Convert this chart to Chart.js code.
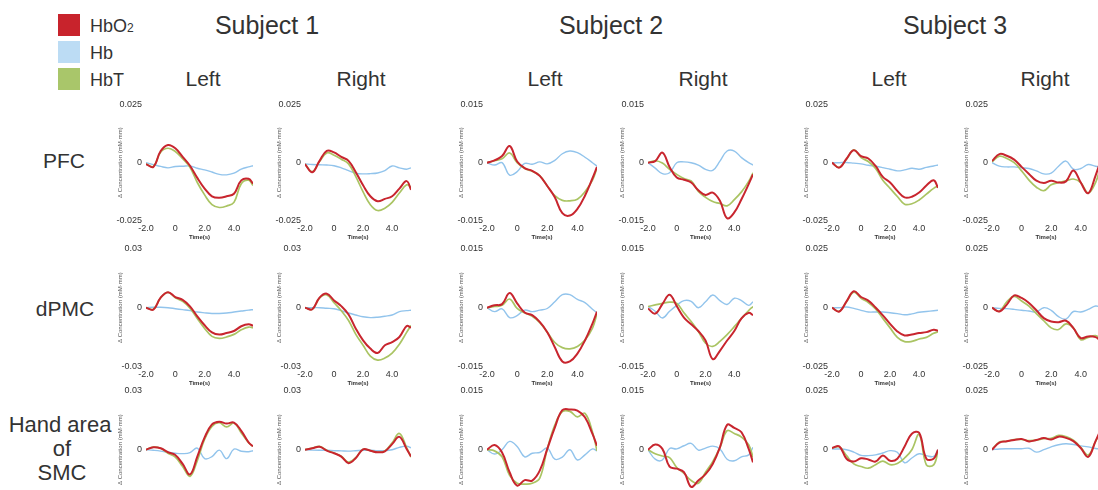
<!DOCTYPE html>
<html><head><meta charset="utf-8">
<script src="https://cdn.jsdelivr.net/npm/chart.js@4.4.1/dist/chart.umd.min.js"></script>
<style>
html,body{margin:0;padding:0;background:#fff;overflow:hidden;}
#fig{position:relative;width:1098px;height:490px;overflow:hidden;font-family:"Liberation Sans",Arial,sans-serif;color:#333;}
.t{position:absolute;white-space:nowrap;transform:translate(-50%,-50%);line-height:1;}
.l{position:absolute;white-space:nowrap;transform:translateY(-50%);line-height:1;font-size:18px;}
.sw{position:absolute;width:22px;height:22px;}
canvas{position:absolute;}
</style></head><body>
<div id="fig">
  <div class="sw" style="left:58px;top:14px;background:#c8232c"></div>
  <div class="sw" style="left:58px;top:41px;background:#bcdcf4"></div>
  <div class="sw" style="left:58px;top:68px;background:#a9c66a"></div>
  <div class="l" style="left:90px;top:26px">HbO<span style="font-size:12px">2</span></div>
  <div class="l" style="left:90px;top:53px">Hb</div>
  <div class="l" style="left:90px;top:80px">HbT</div>
  <div class="t" style="left:267px;top:25px;font-size:25px">Subject 1</div>
  <div class="t" style="left:611px;top:25px;font-size:25px">Subject 2</div>
  <div class="t" style="left:955px;top:25px;font-size:25px">Subject 3</div>
  <div class="t" style="left:203px;top:78px;font-size:21px">Left</div>
  <div class="t" style="left:361px;top:78px;font-size:21px">Right</div>
  <div class="t" style="left:545px;top:78px;font-size:21px">Left</div>
  <div class="t" style="left:703px;top:78px;font-size:21px">Right</div>
  <div class="t" style="left:889px;top:78px;font-size:21px">Left</div>
  <div class="t" style="left:1045px;top:78px;font-size:21px">Right</div>
  <div class="t" style="left:64px;top:160px;font-size:21px">PFC</div>
  <div class="t" style="left:65px;top:308px;font-size:21px">dPMC</div>
  <div class="t" style="left:60px;top:425px;font-size:22px">Hand area</div>
  <div class="t" style="left:62px;top:449px;font-size:22px">of</div>
  <div class="t" style="left:62px;top:473px;font-size:22px">SMC</div>
</div>
<script>
const time = [-2,-1.5,-1,-0.5,0,0.5,1,1.5,2,2.5,3,3.5,4,4.5,5,5.3];
const xTickValues = [-2,0,2,4];
const xTickLabels = ['-2.0','0','2.0','4.0'];

// PFC
const pfc_s1L_hbo2 = [-0.0006,-0.0018,0.005,0.0076,0.0062,0.0025,-0.0013,-0.0065,-0.0111,-0.0144,-0.015,-0.0144,-0.0133,-0.0076,-0.0069,-0.009];
const pfc_s1L_hb   = [0,-0.0008,-0.0016,-0.0022,-0.0016,-0.0015,-0.0014,-0.0024,-0.0031,-0.004,-0.005,-0.0052,-0.0045,-0.0028,-0.0018,-0.0013];
const pfc_s1L_hbt  = [-0.0006,-0.0016,0.0045,0.0062,0.0048,0.0017,-0.002,-0.0085,-0.0138,-0.018,-0.0192,-0.0186,-0.017,-0.009,-0.0075,-0.0098];
const pfc_s1R_hbo2 = [-0.0006,-0.0041,0.0008,0.0051,0.0044,0.0025,0.0008,-0.0041,-0.0097,-0.0144,-0.0165,-0.0155,-0.0144,-0.0111,-0.0079,-0.0116];
const pfc_s1R_hb   = [-0.0005,-0.0008,-0.0009,-0.001,-0.0013,-0.0022,-0.0034,-0.0045,-0.0048,-0.0047,-0.0044,-0.0034,-0.0014,-0.0022,-0.0028,-0.0022];
const pfc_s1R_hbt  = [-0.0006,-0.0038,0.0005,0.0042,0.0032,0.0015,-0.0005,-0.006,-0.0125,-0.018,-0.0205,-0.0195,-0.017,-0.013,-0.0095,-0.0105];
const pfc_s2L_hbo2 = [0,0.0006,0.0017,0.0043,0.0003,-0.0014,-0.0021,-0.0034,-0.006,-0.0089,-0.013,-0.0136,-0.0119,-0.0085,-0.004,-0.0011];
const pfc_s2L_hb   = [0,-0.0006,0,-0.0032,-0.0023,-0.0002,-0.0004,0.0002,-0.0003,0.0006,0.0023,0.003,0.0026,0.0014,0,-0.0009];
const pfc_s2L_hbt  = [0,0.0005,0.001,0.0025,0,-0.0015,-0.0022,-0.0033,-0.006,-0.0085,-0.0097,-0.0098,-0.0094,-0.0075,-0.0045,-0.0013];
const pfc_s2R_hbo2 = [0,0.0004,0.0026,-0.0011,-0.0038,-0.0044,-0.0051,-0.0071,-0.0083,-0.0077,-0.0098,-0.0143,-0.0128,-0.0094,-0.0055,-0.003];
const pfc_s2R_hb   = [0,-0.0014,-0.0028,-0.0026,0,0.0002,0,-0.0006,-0.0017,-0.002,0.0004,0.003,0.003,0.0013,0,-0.0006];
const pfc_s2R_hbt  = [0,0.0005,-0.0001,-0.0017,-0.003,-0.0041,-0.0047,-0.0074,-0.0089,-0.01,-0.0105,-0.0111,-0.0095,-0.0075,-0.0048,-0.0026];
const pfc_s3L_hbo2 = [0,-0.0021,0.0017,0.0053,0.0028,0.0018,-0.0014,-0.0061,-0.0085,-0.0121,-0.0149,-0.0146,-0.0128,-0.0098,-0.0075,-0.0107];
const pfc_s3L_hb   = [0,0,0.0001,-0.0002,-0.0005,-0.0011,-0.0015,-0.0021,-0.0028,-0.0035,-0.0031,-0.0024,-0.0028,-0.002,-0.0014,-0.001];
const pfc_s3L_hbt  = [0,-0.002,0.0015,0.0055,0.0022,0.0005,-0.0025,-0.0075,-0.011,-0.0145,-0.0178,-0.0176,-0.016,-0.0135,-0.011,-0.01];
const pfc_s3R_hbo2 = [0.0007,0.0037,0.003,0.0013,-0.0018,-0.0048,-0.0077,-0.0087,-0.0077,-0.0085,-0.008,-0.0033,-0.0085,-0.0131,-0.0055,0];
const pfc_s3R_hb   = [0,-0.0015,-0.0018,-0.0018,-0.0022,-0.0025,-0.0035,-0.0048,-0.0045,-0.0015,0.0007,-0.0028,-0.0025,-0.0008,-0.0015,-0.0018];
const pfc_s3R_hbt  = [0.0004,0.0028,0.0018,0,-0.0035,-0.0075,-0.0105,-0.012,-0.0095,-0.0085,-0.0078,-0.007,-0.0085,-0.013,-0.0085,-0.0025];

// dPMC
const dpmc_s1L_hbo2 = [0,-0.001,0.0051,0.0078,0.0054,0.004,0.0007,-0.0044,-0.0089,-0.0125,-0.0136,-0.0128,-0.0118,-0.0094,-0.0084,-0.0091];
const dpmc_s1L_hb   = [0,0.0002,0.0002,0,-0.0005,-0.001,-0.0015,-0.0022,-0.0026,-0.0029,-0.0029,-0.0027,-0.0022,-0.0017,-0.0012,-0.001];
const dpmc_s1L_hbt  = [0,-0.0008,0.005,0.0078,0.005,0.0032,-0.0002,-0.0055,-0.0105,-0.0145,-0.0155,-0.0148,-0.0135,-0.0112,-0.0098,-0.0102];
const dpmc_s1R_hbo2 = [0,-0.0008,0.0051,0.0071,0.0037,0.0008,-0.0034,-0.0106,-0.0165,-0.0207,-0.0229,-0.019,-0.0174,-0.0148,-0.0093,-0.0101];
const dpmc_s1R_hb   = [0,0,0,-0.0003,-0.0005,-0.0015,-0.0027,-0.0037,-0.0046,-0.005,-0.0048,-0.0043,-0.0037,-0.002,-0.0015,-0.0013];
const dpmc_s1R_hbt  = [0,-0.0008,0.0048,0.0065,0.0025,-0.0015,-0.0065,-0.0135,-0.019,-0.0245,-0.0265,-0.0255,-0.023,-0.0185,-0.0125,-0.009];
const dpmc_s2L_hbo2 = [0,0.0006,0.0009,0.0037,0.0011,-0.0012,-0.0019,-0.0036,-0.0062,-0.01,-0.0136,-0.0136,-0.0116,-0.0083,-0.004,-0.001];
const dpmc_s2L_hb   = [0,-0.001,-0.0003,-0.0025,-0.002,-0.0006,-0.001,-0.0006,-0.0002,0.0015,0.0033,0.0033,0.0021,0.0013,-0.0004,-0.0013];
const dpmc_s2L_hbt  = [0,0.0003,0.0006,0.0022,-0.0002,-0.0013,-0.0022,-0.0038,-0.0062,-0.0088,-0.0101,-0.0104,-0.0098,-0.0082,-0.0052,-0.0015];
const dpmc_s2R_hbo2 = [-0.0002,-0.0015,0.0009,0.0033,0.0004,-0.0025,-0.0042,-0.0059,-0.0083,-0.013,-0.0109,-0.0083,-0.0059,-0.0027,-0.0013,-0.0019];
const dpmc_s2R_hb   = [0.0003,-0.0009,-0.0026,-0.0009,0.0006,0.0018,0.0016,0,0.0015,0.0032,0.0018,0.0008,0.0024,0.0018,0.0006,0.0015];
const dpmc_s2R_hbt  = [0.0003,0.0007,0.0011,0.0014,0.0011,-0.0013,-0.0035,-0.006,-0.009,-0.0098,-0.0085,-0.0068,-0.0048,-0.0027,-0.0007,0.0003];
const dpmc_s3L_hbo2 = [0,-0.0016,0.0027,0.0069,0.0045,0.003,0.0001,-0.0032,-0.0068,-0.01,-0.0117,-0.0113,-0.0107,-0.0103,-0.0093,-0.0097];
const dpmc_s3L_hb   = [0,0,0.0003,-0.0003,-0.0011,-0.0018,-0.0018,-0.0018,-0.0021,-0.0025,-0.003,-0.0026,-0.0019,-0.0016,-0.0013,-0.0011];
const dpmc_s3L_hbt  = [0,-0.0015,0.0025,0.0065,0.004,0.0022,-0.0005,-0.0045,-0.0085,-0.0125,-0.0143,-0.0142,-0.0132,-0.0125,-0.0108,-0.0102];
const dpmc_s3R_hbo2 = [0,-0.0016,0.0013,0.0052,0.0041,0.002,-0.0011,-0.0044,-0.0058,-0.0061,-0.0055,-0.0086,-0.0128,-0.0121,-0.0124,-0.0138];
const dpmc_s3R_hb   = [0,-0.0003,-0.0004,-0.0007,-0.0011,-0.0014,-0.0018,0,-0.0011,-0.0038,-0.0048,-0.0016,-0.0018,-0.0007,0.0007,0.0003];
const dpmc_s3R_hbt  = [0,-0.0015,0.0025,0.0048,0.0028,0.0007,-0.0025,-0.0055,-0.0085,-0.0092,-0.0068,-0.0085,-0.0135,-0.0125,-0.0118,-0.0128];

// Hand area of SMC
const smc_s1L_hbo2 = [0,0.0012,0.0007,-0.0013,-0.0027,-0.0072,-0.0125,-0.0035,0.0062,0.0128,0.0142,0.0132,0.0137,0.0095,0.0037,0.0017];
const smc_s1L_hb   = [0,-0.0003,-0.0007,-0.0013,-0.0018,-0.002,-0.0015,0.0008,-0.0045,-0.0035,-0.0002,-0.0045,0.0003,-0.0008,-0.001,-0.0005];
const smc_s1L_hbt  = [0,0.0013,0.0007,-0.0018,-0.0038,-0.0085,-0.0135,-0.0055,0.0053,0.0118,0.0137,0.0115,0.0135,0.0085,0.0035,0.0017];
const smc_s1R_hbo2 = [0,0.0007,0.0015,-0.0005,-0.0018,-0.0035,-0.0068,-0.0042,0.0002,-0.0005,-0.0013,-0.0008,0.0028,0.0065,0.0003,-0.0035];
const smc_s1R_hb   = [0,-0.0002,-0.0003,-0.0003,-0.0005,-0.0006,-0.0007,-0.0005,-0.0003,-0.0003,-0.0005,-0.0005,0,0.0012,0.0018,0.001];
const smc_s1R_hbt  = [0,0.0008,0.0017,-0.0003,-0.0017,-0.0033,-0.0063,-0.004,0.0002,-0.0005,-0.0012,-0.0007,0.0035,0.0082,0.001,-0.0038];
const smc_s2L_hbo2 = [0,0.0012,-0.0007,-0.0057,-0.0091,-0.0077,-0.0078,-0.0053,0.0002,0.0056,0.01,0.0102,0.0099,0.0082,0.004,0.001];
const smc_s2L_hb   = [0,-0.0011,0,0.0021,0.0008,-0.0018,-0.0009,-0.0007,0.0004,-0.0024,-0.0019,0,-0.0026,-0.0013,0.0002,-0.0003];
const smc_s2L_hbt  = [0,-0.0003,-0.0018,-0.0065,-0.0085,-0.0087,-0.0085,-0.0072,0.0002,0.0062,0.0096,0.0097,0.0083,0.0092,0.0045,-0.0003];
const smc_s2R_hbo2 = [0,0.0013,0.0002,-0.0043,-0.0048,-0.0057,-0.0094,-0.0078,-0.0062,-0.0036,0.0006,0.0063,0.0055,0.0044,0.0002,-0.0032];
const smc_s2R_hb   = [0,-0.0024,-0.0026,0.0003,0.0002,0.001,0.0016,-0.0001,0.0004,0.0009,0.0002,-0.0024,-0.0028,-0.0018,-0.0013,0.0006];
const smc_s2R_hbt  = [0,-0.001,-0.0016,-0.002,-0.0045,-0.006,-0.0078,-0.0085,-0.0057,-0.003,0.0005,0.0048,0.0041,0.0032,0.0013,-0.0019];
const smc_s3L_hbo2 = [0.0007,0.0014,-0.0038,-0.005,-0.0036,-0.0041,-0.005,-0.0024,-0.0047,-0.0038,0.0014,0.0067,0.0071,-0.0038,-0.0038,0];
const smc_s3L_hb   = [0.0003,0.0003,0,-0.001,-0.0024,-0.0025,-0.0022,-0.0014,-0.0004,-0.0011,-0.0055,-0.0035,-0.0017,-0.0025,-0.0028,0];
const smc_s3L_hbt  = [0.0007,0.0012,-0.0025,-0.006,-0.0071,-0.0078,-0.0063,-0.0048,-0.0063,-0.0058,-0.0035,0,0.0064,-0.0064,-0.0064,-0.0007];
const smc_s3R_hbo2 = [0,0.003,0.0036,0.0041,0.0045,0.0035,0.0041,0.0049,0.0043,0.0055,0.005,0.0036,0.0007,-0.003,0.0036,0.0078];
const smc_s3R_hb   = [0,0.0003,0.0004,0.0004,0.0004,0.0006,-0.001,0,0.0012,0.0021,0.0025,0.0022,0.0016,0.0012,0.0005,0.0004];
const smc_s3R_hbt  = [0,0.0033,0.0035,0.0043,0.0043,0.0038,0.004,0.0047,0.0048,0.006,0.0055,0.004,0.001,-0.0022,0.0035,0.007];

// y-axis limits per row (columns: S1 L, S1 R, S2 L, S2 R, S3 L, S3 R)
const pfcLimits  = [0.025,0.025,0.015,0.015,0.025,0.025];
const dpmcLimits = [0.03,0.03,0.015,0.015,0.025,0.025];
const smcLimits  = [0.03,0.03,0.015,0.015,0.025,0.025];

// ---------- build ----------
const panelSeries = [
  [[pfc_s1L_hbo2,pfc_s1L_hb,pfc_s1L_hbt],[pfc_s1R_hbo2,pfc_s1R_hb,pfc_s1R_hbt],
   [pfc_s2L_hbo2,pfc_s2L_hb,pfc_s2L_hbt],[pfc_s2R_hbo2,pfc_s2R_hb,pfc_s2R_hbt],
   [pfc_s3L_hbo2,pfc_s3L_hb,pfc_s3L_hbt],[pfc_s3R_hbo2,pfc_s3R_hb,pfc_s3R_hbt]],
  [[dpmc_s1L_hbo2,dpmc_s1L_hb,dpmc_s1L_hbt],[dpmc_s1R_hbo2,dpmc_s1R_hb,dpmc_s1R_hbt],
   [dpmc_s2L_hbo2,dpmc_s2L_hb,dpmc_s2L_hbt],[dpmc_s2R_hbo2,dpmc_s2R_hb,dpmc_s2R_hbt],
   [dpmc_s3L_hbo2,dpmc_s3L_hb,dpmc_s3L_hbt],[dpmc_s3R_hbo2,dpmc_s3R_hb,dpmc_s3R_hbt]],
  [[smc_s1L_hbo2,smc_s1L_hb,smc_s1L_hbt],[smc_s1R_hbo2,smc_s1R_hb,smc_s1R_hbt],
   [smc_s2L_hbo2,smc_s2L_hb,smc_s2L_hbt],[smc_s2R_hbo2,smc_s2R_hb,smc_s2R_hbt],
   [smc_s3L_hbo2,smc_s3L_hb,smc_s3L_hbt],[smc_s3R_hbo2,smc_s3R_hb,smc_s3R_hbt]]
];
const rowLimits = [pfcLimits, dpmcLimits, smcLimits];

const colLeft  = [146,305,487,648,832,992];
const colWidth = [107,106,110,105,106,108];
const rowTop    = [103,247,389];
const rowHeight = [118,120,120];
const AX_W = 40, PAD_T = 8, AX_H = 22, PAD_R = 2;
const RED = '#c8252e', BLUE = '#92c4ec', GREEN = '#aac463';
const FONT = '"Liberation Sans", Arial, sans-serif';

const fig = document.getElementById('fig');
for (let r = 0; r < 3; r++) {
  for (let c = 0; c < 6; c++) {
    const w = AX_W + colWidth[c] + PAD_R, h = PAD_T + rowHeight[r] + AX_H;
    const cv = document.createElement('canvas');
    cv.width = w; cv.height = h;
    cv.style.left = (colLeft[c] - AX_W) + 'px';
    cv.style.top = (rowTop[r] - PAD_T) + 'px';
    cv.style.width = w + 'px'; cv.style.height = h + 'px';
    fig.appendChild(cv);
    const [hbo2, hb, hbt] = panelSeries[r][c];
    const lim = rowLimits[r][c];
    const pts = arr => time.map((t, i) => ({x: t, y: arr[i]}));
    new Chart(cv, {
      type: 'line',
      data: { datasets: [
        {label: 'HbO2', data: pts(hbo2), borderColor: RED, borderWidth: 2},
        {label: 'HbT', data: pts(hbt), borderColor: GREEN, borderWidth: 1.7},
        {label: 'Hb', data: pts(hb), borderColor: BLUE, borderWidth: 1.4}
      ]},
      options: {
        responsive: false, animation: false, devicePixelRatio: 1,
        layout: {padding: {top: PAD_T, right: PAD_R, left: 0, bottom: 0}},
        elements: {point: {radius: 0}, line: {tension: 0.4, fill: false}},
        plugins: {legend: {display: false}, tooltip: {enabled: false}},
        scales: {
          x: {
            type: 'linear', min: -2, max: 5.3,
            grid: {display: false, drawTicks: false}, border: {display: false},
            afterBuildTicks: a => { a.ticks = xTickValues.map(v => ({value: v})); },
            afterFit: a => { a.height = AX_H; },
            ticks: {font: {size: 9, family: FONT}, color: '#333', padding: 2, maxRotation: 0, autoSkip: false,
                    callback: v => xTickLabels[xTickValues.indexOf(v)]},
            title: {display: true, text: 'Time(s)', font: {size: 6, weight: 'bold', family: FONT}, color: '#333', padding: {top: 0, bottom: 2}}
          },
          y: {
            type: 'linear', min: -lim, max: lim,
            grid: {display: false, drawTicks: false}, border: {display: false},
            afterBuildTicks: a => { a.ticks = [{value: -lim}, {value: 0}, {value: lim}]; },
            afterFit: a => { a.width = AX_W; },
            ticks: {font: {size: 9, family: FONT}, color: '#333', padding: 4, callback: v => String(v)},
            title: {display: true, text: 'Δ Concentration (mM·mm)', font: {size: 6, family: FONT}, color: '#555', padding: {top: 11, bottom: 0}}
          }
        }
      }
    });
  }
}
</script>
</body></html>
